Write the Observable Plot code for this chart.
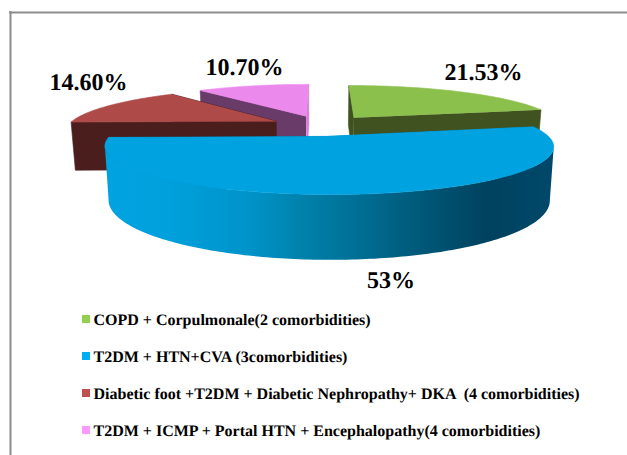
<!DOCTYPE html>
<html>
<head>
<meta charset="utf-8">
<style>html,body{margin:0;padding:0;background:#fff}svg{display:block}svg text{text-rendering:geometricPrecision}</style>
<script src="https://cdn.jsdelivr.net/npm/d3@7"></script>
<script src="https://cdn.jsdelivr.net/npm/@observablehq/plot@0.6"></script>
</head>
<body>
<div id="chart"></div>
<script>
// Data
const categories = [
  "COPD + Corpulmonale(2 comorbidities)",
  "T2DM + HTN+CVA (3comorbidities)",
  "Diabetic foot +T2DM + Diabetic Nephropathy+ DKA  (4 comorbidities)",
  "T2DM + ICMP + Portal HTN + Encephalopathy(4 comorbidities)"
];
const values = [21.53, 53, 14.6, 10.7];
const valueLabels = ["21.53%", "53%", "14.60%", "10.70%"];

// Styles
const topColors = ["#8BC04D", "#00A2E0", "#AE4A47", "#EC89EC"];
const startFaceColors = ["#3F5220", "#0086B8", "#4B1E1E", "#693B68"];
const endFaceColors = ["#3F5220", "#0086B8", "#4B1E1E", "#D77FD6"];
const legendColors = ["#92D050", "#00B0F0", "#C0504D", "#FF99FF"];
const labelX = [483, 390.5, 88, 244];
const labelY = [71.5, 279.5, 81.5, 66.5];
const legendY = [319.4, 356.4, 393.4, 430.4];
const wallStopX = [105, 170, 250, 300, 360, 420, 487, 552];
const wallStopColor = ["#00A3E0", "#00A0DC", "#0093C8", "#0082AC", "#006E94", "#005878", "#00425F", "#00486A"];
const drawOrder = [0, 3, 2, 1];

// Projection of the exploded 3-D pie
const vx = 322, vy = 125, S = 208.5, A = 41.5, k = 0.2, H = 49, explode = 0.25, shrink = 0.983;
const total = d3.sum(values);
const cum = d3.cumsum(values);
const rad = d => d * Math.PI / 180;
const angles = values.map((v, i) => [(cum[i] - v) / total * 360, cum[i] / total * 360]);
function project(X, Y, low) {
  const w = 1 + k * Y;
  const px = S * X / w;
  return {
    x: vx + (low ? px * shrink : px),
    y: vy - A * Y / w + (low ? H / w : 0)
  };
}

const faces = [];
for (const i of drawOrder) {
  const [a0, a1] = angles[i];
  const mid = rad((a0 + a1) / 2);
  const ox = explode * Math.sin(mid), oy = explode * Math.cos(mid);
  const rim = (a, low) => project(ox + Math.sin(rad(a)), oy + Math.cos(rad(a)), low);
  const apex = low => project(ox, oy, low);
  const arcAngles = d3.range(a0, a1, 1).concat([a1]);
  // cut faces
  faces.push({ color: startFaceColors[i], pts: [apex(false), rim(a0, false), rim(a0, true), apex(true)] });
  faces.push({ color: endFaceColors[i], pts: [apex(false), rim(a1, false), rim(a1, true), apex(true)] });
  // outer wall, only the front slice shows it: from silhouette to silhouette
  if (i === 1) {
    const from = d3.greatest(arcAngles, a => rim(a, false).x);
    const to = d3.least(arcAngles, a => rim(a, false).x);
    const seen = arcAngles.filter(a => a >= from && a <= to);
    faces.push({
      color: "url(#wallShade)",
      stroke: "none",
      pts: [...seen.map(a => rim(a, false)), ...seen.slice().reverse().map(a => rim(a, true))]
    });
  }
  // top face
  faces.push({ color: topColors[i], pts: [apex(false), ...arcAngles.map(a => rim(a, false))] });
}

const legendRows = categories.map((name, i) => ({ name, color: legendColors[i], y: legendY[i] }));
const labelRows = valueLabels.map((text, i) => ({ text, x: labelX[i], y: labelY[i] }));

// Horizontal shading of the blue wall
function wallGradient() {
  const ns = "http://www.w3.org/2000/svg";
  const defs = document.createElementNS(ns, "defs");
  const grad = document.createElementNS(ns, "linearGradient");
  grad.setAttribute("id", "wallShade");
  grad.setAttribute("gradientUnits", "userSpaceOnUse");
  const x0 = wallStopX[0], x1 = wallStopX[wallStopX.length - 1];
  grad.setAttribute("x1", x0); grad.setAttribute("x2", x1);
  grad.setAttribute("y1", 0); grad.setAttribute("y2", 0);
  wallStopX.forEach((x, i) => {
    const s = document.createElementNS(ns, "stop");
    s.setAttribute("offset", (x - x0) / (x1 - x0));
    s.setAttribute("stop-color", wallStopColor[i]);
    grad.appendChild(s);
  });
  defs.appendChild(grad);
  return defs;
}

const serif = "'Liberation Serif','Times New Roman',serif";
const chart = Plot.plot({
  width: 627,
  height: 455,
  margin: 0,
  x: { domain: [0, 627], range: [0, 627], axis: null },
  y: { domain: [0, 455], range: [0, 455], axis: null },
  style: { background: "#fff" },
  marks: [
    wallGradient,
    Plot.ruleY([12], { x1: 9, x2: 627, stroke: "#8C8C8C", strokeWidth: 2 }),
    Plot.ruleX([10], { y1: 11, y2: 455, stroke: "#8C8C8C", strokeWidth: 2 }),
    ...faces.map(f => Plot.line(f.pts, {
      x: "x", y: "y", fill: f.color, stroke: f.stroke || f.color, strokeWidth: 0.6
    })),
    Plot.text(labelRows, {
      x: "x", y: "y", text: "text", fontFamily: serif, fontWeight: "bold", fontSize: 24,
      fill: "#000", textAnchor: "middle"
    }),
    Plot.rect(legendRows, {
      x1: () => 82, x2: () => 90, y1: d => d.y - 4.4, y2: d => d.y + 3.6, fill: "color"
    }),
    Plot.text(legendRows, {
      x: () => 93, y: "y", text: "name", fontFamily: serif, fontWeight: "bold", fontSize: 16,
      fill: "#000", textAnchor: "start"
    })
  ],
  color: { type: "identity" }
});
document.getElementById("chart").appendChild(chart);
</script>
</body>
</html>
